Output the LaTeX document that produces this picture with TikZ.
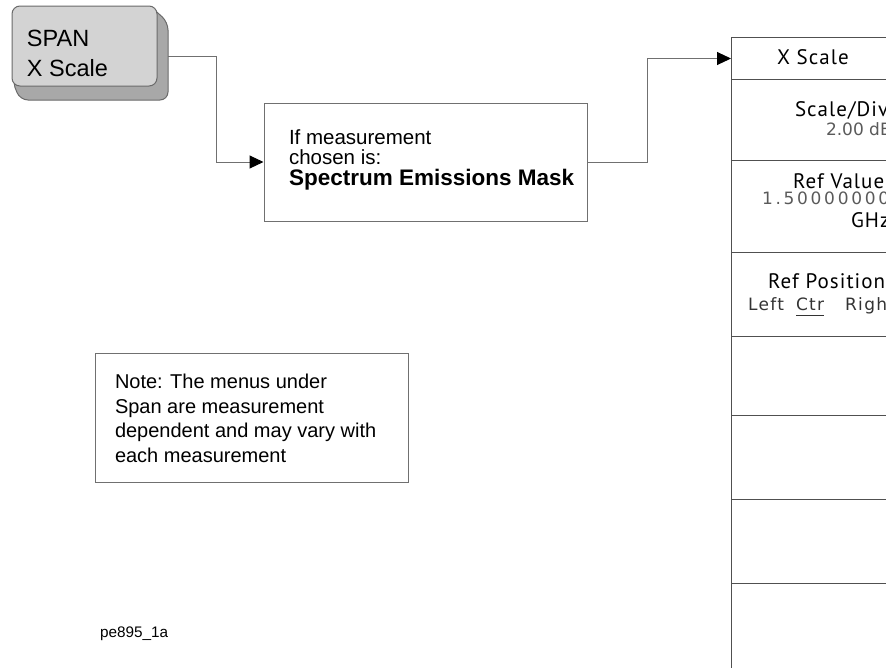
\documentclass[tikz,border=0pt]{standalone}
\usepackage{fontspec}
\setmainfont{Liberation Sans}
\newfontfamily\panelfont{PT Sans}[LetterSpace=5]
\newfontfamily\valfont{DejaVu Sans}
\usetikzlibrary{arrows.meta,calc}
\definecolor{linegray}{HTML}{707070}
\definecolor{panelgray}{HTML}{505050}
\definecolor{btnfill}{HTML}{D3D3D3}
\definecolor{btnshadow}{HTML}{A8A8A8}
\definecolor{btnborder}{HTML}{6A6A6A}
\definecolor{valgray}{HTML}{5A5A5A}
\tikzset{
  txt/.style={anchor=base west, inner sep=0pt, outer sep=0pt},
  conn/.style={draw=linegray, line width=1pt, -{Triangle[length=14pt,width=13pt,fill=black,color=black]}},
  plainbox/.style={draw=linegray, line width=1pt, inner sep=0pt},
  cell/.style={draw=panelgray, line width=1pt, minimum width=200pt, anchor=north west, inner sep=0pt},
  lbl/.style={txt, font=\panelfont\fontsize{21}{24}\selectfont},
  val/.style={txt, font=\valfont\fontsize{17}{20}\selectfont, text=valgray},
  valsp/.style={txt, font=\valfont\fontsize{17}{20}\selectfont\addfontfeatures{LetterSpace=16}, text=valgray},
  optsp/.style={txt, font=\valfont\fontsize{17}{20}\selectfont\addfontfeatures{LetterSpace=8}, text=black!80},
}
\begin{document}
\begin{tikzpicture}[x=1pt,y=-1pt]
\useasboundingbox (0,0) rectangle (886,667);
\clip (0,0) rectangle (886,667);

% SPAN button
\filldraw[fill=btnshadow, draw=btnborder, line width=1pt, rounded corners=8pt]
  (150,6) -- (168,22) -- (168,100) -- (20,100) -- (12,80) -- cycle;
\node[draw=btnborder, fill=btnfill, line width=1pt, rounded corners=8pt,
      minimum width=145pt, minimum height=80pt, inner sep=0pt] (span) at (84.5,46) {};
\node[txt, font=\fontsize{23.5}{28}\selectfont] (spanA) at (27,46) {SPAN};
\node[txt, font=\fontsize{23.5}{28}\selectfont] (spanB) at (27,76) {X Scale};
\coordinate (spanout) at (168,56);

% condition box
\node[plainbox, minimum width=323pt, minimum height=118pt] (cond) at (425.5,162) {};
\node[txt, font=\fontsize{20.5}{24}\selectfont] (condA) at (289,144) {If measurement};
\node[txt, font=\fontsize{20.5}{24}\selectfont] (condB) at (289,164) {chosen is:};
\node[txt, font=\bfseries\fontsize{22.5}{24}\selectfont] (condC) at (289,185) {Spectrum Emissions Mask};

% note box
\node[plainbox, minimum width=313pt, minimum height=129pt] (note) at (251.5,417.5) {};
\node[txt, font=\fontsize{20}{24}\selectfont] (noteA) at (115,388) {Note: The menus under};
\node[txt, font=\fontsize{20}{24}\selectfont] (noteB) at (115,413) {Span are measurement};
\node[txt, font=\fontsize{20}{24}\selectfont] (noteC) at (115,437) {dependent and may vary with};
\node[txt, font=\fontsize{20}{24}\selectfont] (noteD) at (115,462) {each measurement};

\node[txt, font=\fontsize{15.3}{18}\selectfont] (figid) at (100,637) {pe895\_1a};

% menu panel
\node[cell, minimum height=42pt] (c1) at (731,37) {};
\node[cell, minimum height=81pt] (c2) at (731,79) {};
\node[cell, minimum height=92pt] (c3) at (731,160) {};
\node[cell, minimum height=84pt] (c4) at (731,252) {};
\node[cell, minimum height=79pt] (c5) at (731,336) {};
\node[cell, minimum height=84pt] (c6) at (731,415) {};
\node[cell, minimum height=84pt] (c7) at (731,499) {};
\node[cell, minimum height=117pt] (c8) at (731,583) {};

\node[lbl] (l1) at (777,64) {X Scale};
\node[lbl] (l2) at (795,116) {Scale/Div};
\node[val] (v2) at (826,135) {2.00 dB};
\node[lbl] (l3) at (793,188) {Ref Value};
\node[valsp] (v3) at (762,204) {1.50000000};
\node[lbl] (l3b) at (851,227) {GHz};
\node[lbl] (l4) at (768,288) {Ref Position};
\node[optsp] (v4a) at (748,310) {Left};
\node[optsp] (v4b) at (796,310) {\underline{\vphantom{g}Ctr}};
\node[optsp] (v4c) at (845,310) {Right};

% connectors
\draw[conn] (spanout) -- ++(48,0) |- (cond.west);
\draw[conn] (cond.east) -- ++(60,0) |- (c1.west);
\end{tikzpicture}
\end{document}
